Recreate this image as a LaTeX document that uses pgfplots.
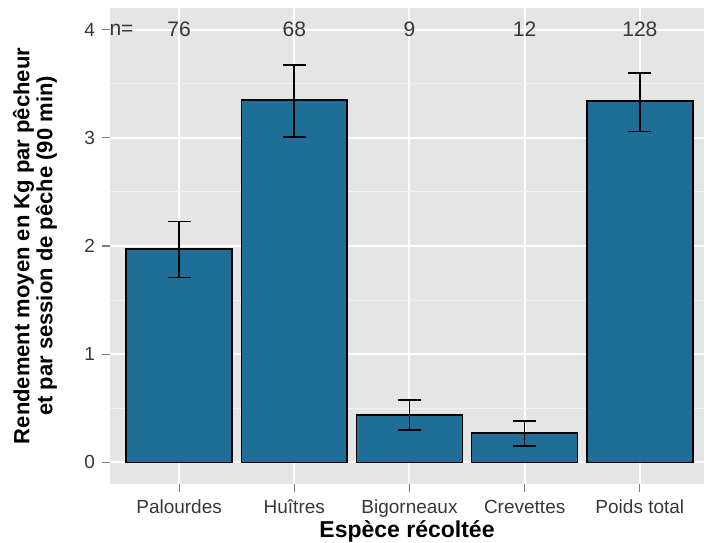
\documentclass[border=0pt]{standalone}
\usepackage{fontspec}
\setmainfont{Liberation Sans}
\usepackage{pgfplots}
\pgfplotsset{compat=1.18}
\definecolor{barblue}{RGB}{31,110,151}
\definecolor{panelgrey}{RGB}{229,229,229}
\definecolor{minorgrid}{RGB}{242,242,242}
\definecolor{tickgrey}{RGB}{127,127,127}
\definecolor{labgrey}{RGB}{55,55,55}
\begin{document}
\begin{tikzpicture}
\path[use as bounding box] (-55pt,-29pt) rectangle (297pt,242pt);
\begin{axis}[
  at={(0,0)}, anchor=south west,
  scale only axis, width=297pt, height=238pt,
  xmin=0.4, xmax=5.557, ymin=-0.2, ymax=4.2,
  axis background/.style={fill=panelgrey},
  axis line style={draw=none},
  tick pos=left, tick align=outside,
  major tick length=4pt, minor tick length=0pt,
  tick style={tickgrey, line width=0.6pt},
  xtick={1,2,3,4,5},
  xticklabels={Palourdes,Huîtres,Bigorneaux,Crevettes,Poids total},
  ytick={0,1,2,3,4},
  minor ytick={0.5,1.5,2.5,3.5},
  grid=both,
  major grid style={white, line width=1pt},
  minor grid style={minorgrid, line width=0.5pt},
  /pgf/number format/assume math mode=true,
  xticklabel style={font=\fontsize{9.5}{10}\selectfont, text=labgrey, text height=7pt, text depth=2pt},
  yticklabel style={font=\fontsize{9.5}{10}\selectfont, text=labgrey},
  ybar, bar width=0.92,
]
\addplot[ybar, fill=barblue, draw=black, line width=0.8pt,
  error bars/.cd, y dir=both, y explicit,
  error bar style={black, line width=0.8pt},
  error mark options={black, rotate=90, mark size=5.75pt, line width=0.8pt}]
coordinates {
  (1,1.97) += (0,0.255) -= (0,0.26)
  (2,3.35) += (0,0.325) -= (0,0.34)
  (3,0.44) += (0,0.135) -= (0,0.14)
  (4,0.27) += (0,0.11) -= (0,0.12)
  (5,3.34) += (0,0.26) -= (0,0.28)
};
\node[font=\fontsize{10.5}{12}\selectfont, text=labgrey] at (axis cs:0.5,4) {n=};
\node[font=\fontsize{10.5}{12}\selectfont, text=labgrey] at (axis cs:1,4) {76};
\node[font=\fontsize{10.5}{12}\selectfont, text=labgrey] at (axis cs:2,4) {68};
\node[font=\fontsize{10.5}{12}\selectfont, text=labgrey] at (axis cs:3,4) {9};
\node[font=\fontsize{10.5}{12}\selectfont, text=labgrey] at (axis cs:4,4) {12};
\node[font=\fontsize{10.5}{12}\selectfont, text=labgrey] at (axis cs:5,4) {128};
\end{axis}
\node[font=\bfseries\fontsize{11.5}{12}\selectfont] at (148.5pt,-23.5pt) {Espèce récoltée};
\node[rotate=90, align=center, font=\bfseries\fontsize{11}{9.5}\selectfont] at (-37.5pt,119pt)
  {Rendement moyen en Kg par pêcheur\\et par session de pêche (90 min)};
\end{tikzpicture}
\end{document}
